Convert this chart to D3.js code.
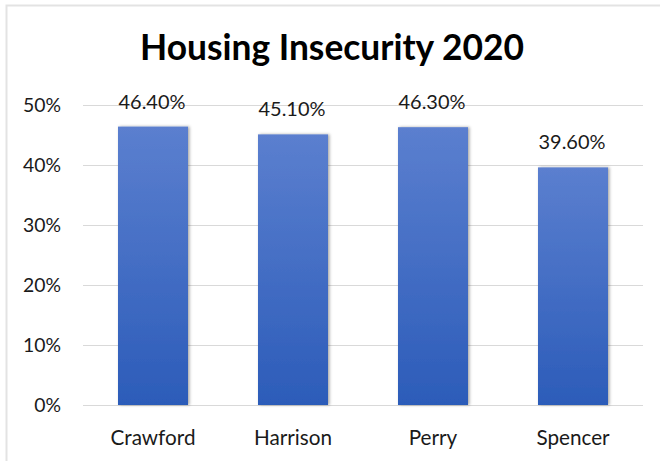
<!DOCTYPE html>
<html><head><meta charset="utf-8">
<script src="https://cdn.jsdelivr.net/npm/d3@7/dist/d3.min.js"></script>
<style>body{margin:0;background:#fff}svg{display:block}text{font-family:Lato,"Open Sans",sans-serif}</style>
</head><body>
<script>
const categories = ["Crawford","Harrison","Perry","Spencer"];
const values = [0.464,0.451,0.463,0.396];
const valueLabels = ["46.40%","45.10%","46.30%","39.60%"];
const yTicks = [0,0.1,0.2,0.3,0.4,0.5];
const title = "Housing Insecurity 2020";

const W=660,H=461;
const svg=d3.select("body").append("svg").attr("width",W).attr("height",H);
const defs=svg.append("defs");
const g=defs.append("linearGradient").attr("id","bg").attr("x1",0).attr("y1",0).attr("x2",0).attr("y2",1);
g.append("stop").attr("offset","0%").attr("stop-color","#5b7fcf");
g.append("stop").attr("offset","100%").attr("stop-color","#2c5cb9");
const f=defs.append("filter").attr("id","sh").attr("x","-20%").attr("y","-5%").attr("width","140%").attr("height","110%");
f.append("feDropShadow").attr("dx",1.5).attr("dy",0).attr("stdDeviation",1.5).attr("flood-color","#000").attr("flood-opacity",0.35);

// border
svg.append("path").attr("d","M"+W+",5.5 H6.5 V"+H).attr("fill","none").attr("stroke","#e3e3e3").attr("stroke-width",2);

const x=d3.scaleBand().domain(categories).range([83,643]).paddingInner(0.5).paddingOuter(0.25);
const y=d3.scaleLinear().domain([0,0.5]).range([405,105]);

function fit(sel,target,size){
  sel.attr("font-size",size);
  const w=sel.node().getComputedTextLength();
  sel.attr("font-size",size*target/w);
}

svg.append("g").selectAll("line").data(yTicks).join("line")
 .attr("x1",83).attr("x2",643).attr("y1",d=>y(d)+0.5).attr("y2",d=>y(d)+0.5)
 .attr("stroke","#d9d9d9").attr("stroke-width",1);

const yAxis=d3.axisLeft(y).tickValues(yTicks).tickFormat(d3.format(".0%")).tickSize(0).tickPadding(0);
const ya=svg.append("g").attr("transform","translate(61,0)").call(yAxis);
ya.select(".domain").remove();
ya.selectAll("text").attr("font-family","Lato").attr("fill","#1a1a1a").attr("dy","0.35em").attr("font-size",20);
{const t=ya.selectAll("text").filter(d=>d===0.5); const w=t.node().getComputedTextLength(); ya.selectAll("text").attr("font-size",20*38/w);}

svg.append("g").selectAll("rect").data(values).join("rect")
 .attr("x",(d,i)=>x(categories[i])).attr("width",x.bandwidth())
 .attr("y",d=>y(d)).attr("height",d=>y(0)-y(d))
 .attr("fill","url(#bg)").attr("filter","url(#sh)");

const lbl=svg.append("g").selectAll("text").data(values).join("text")
 .attr("x",(d,i)=>x(categories[i])+x.bandwidth()/2-1).attr("y",d=>y(d)-18)
 .attr("text-anchor","middle").attr("fill","#1a1a1a").text((d,i)=>valueLabels[i]).attr("font-size",20);
{const w=lbl.node().getComputedTextLength(); lbl.attr("font-size",20*67/w);}

const xAxis=d3.axisBottom(x).tickSize(0).tickPadding(0);
const xa=svg.append("g").attr("transform","translate(0,445)").call(xAxis);
xa.select(".domain").remove();
xa.selectAll("text").attr("font-family","Lato").attr("fill","#1a1a1a").attr("dy",0).attr("font-size",20);
{const t=xa.select("text"); const w=t.node().getComputedTextLength(); xa.selectAll("text").attr("font-size",20*85/w);}

const tt=svg.append("text").attr("x",332).attr("y",60).attr("text-anchor","middle")
 .attr("font-weight","bold").attr("fill","#000").text(title);
fit(tt,384,34);
</script>
</body></html>
